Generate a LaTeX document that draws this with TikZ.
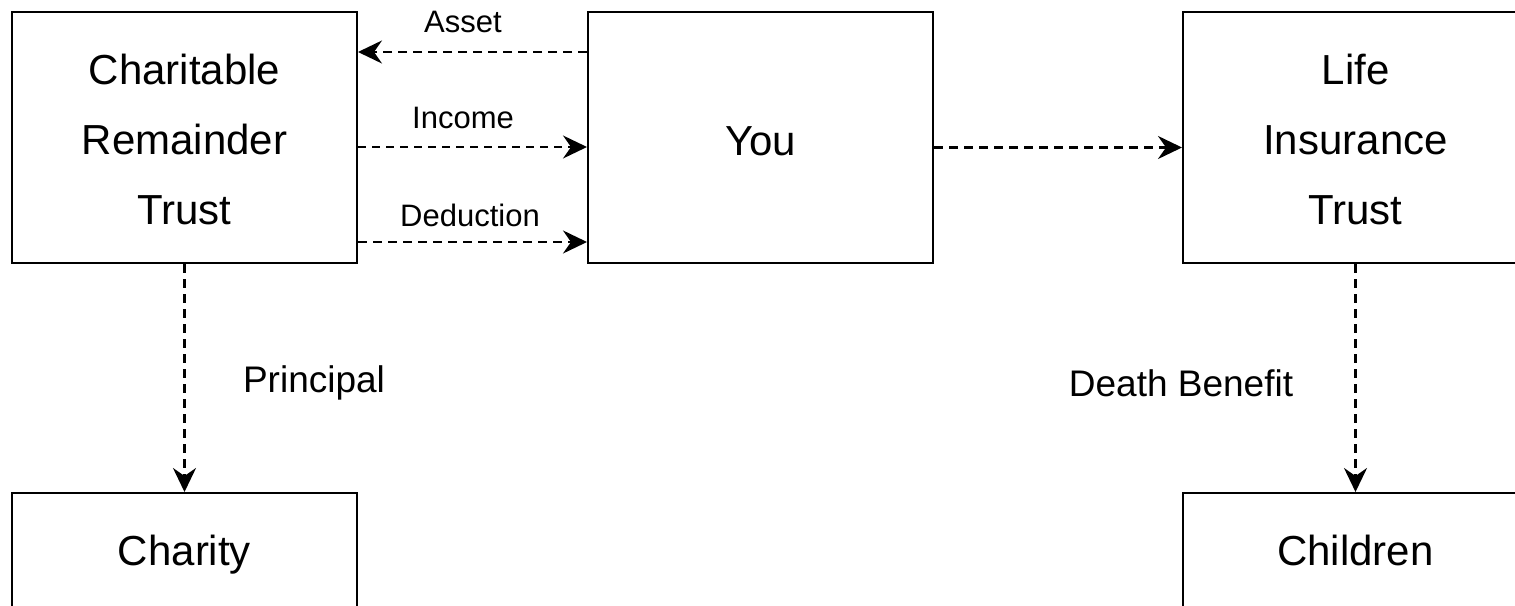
\documentclass[tikz,border=0pt]{standalone}
\usepackage{fontspec}
\setmainfont{Liberation Sans}
\usetikzlibrary{arrows.meta,calc}
\begin{document}
\begin{tikzpicture}[x=1pt,y=-1pt,
  box/.style={draw=black,line width=2pt,minimum width=345pt,inner sep=0pt,align=center,
    font=\fontsize{42}{70}\selectfont},
  arr/.style={line width=2.5pt,dash pattern=on 9pt off 6pt,
    -{Stealth[length=24pt,width=23pt,inset=8pt]}},
  thinarr/.style={line width=1.6pt,dash pattern=on 8pt off 6pt,
    -{Stealth[length=24pt,width=23pt,inset=8pt]}},
  elabel/.style={font=\fontsize{31}{36}\selectfont,inner sep=0pt},
  vlabel/.style={font=\fontsize{37}{42}\selectfont,inner sep=0pt}]
\clip (0,0) rectangle (1515,605);
\node[box,minimum height=251pt] (crt) at (184.5,137.5) {\raisebox{-9.5pt}[0pt][0pt]{\begin{tabular}{@{}c@{}}Charitable\\Remainder\\Trust\end{tabular}}};
\node[box,minimum height=251pt,text height=36pt,text depth=1pt] (you) at (760.5,137.5) {You};
\node[box,minimum height=251pt] (lit) at (1355.5,137.5) {\raisebox{-9.5pt}[0pt][0pt]{\begin{tabular}{@{}c@{}}Life\\Insurance\\Trust\end{tabular}}};
\node[box,minimum height=114pt,text height=31pt,text depth=1pt] (charity) at (184.5,550) {Charity};
\node[box,minimum height=114pt,text height=31pt,text depth=1pt] (children) at (1355.5,550) {Children};
\draw[arr] ($(you.north west)+(0,41)$) -- ($(crt.north east)+(0,41)$);
\draw[thinarr] ($(crt.north east)+(0,136)$) -- ($(you.north west)+(0,136)$);
\draw[arr] ($(crt.north east)+(0,231)$) -- ($(you.north west)+(0,231)$);
\draw[arr] ($(you.east)+(0,10)$) -- ($(lit.west)+(0,10)$);
\draw[arr] (crt.south) -- (charity.north);
\draw[arr] (lit.south) -- (children.north);
\node[elabel] (lasset) at (463,22) {Asset};
\node[elabel] (lincome) at (463,118) {Income};
\node[elabel] (lded) at (470,215) {Deduction};
\node[vlabel] (lprin) at (314,383) {Principal};
\node[vlabel] (ldeath) at (1181,383) {Death Benefit};
\end{tikzpicture}
\end{document}
